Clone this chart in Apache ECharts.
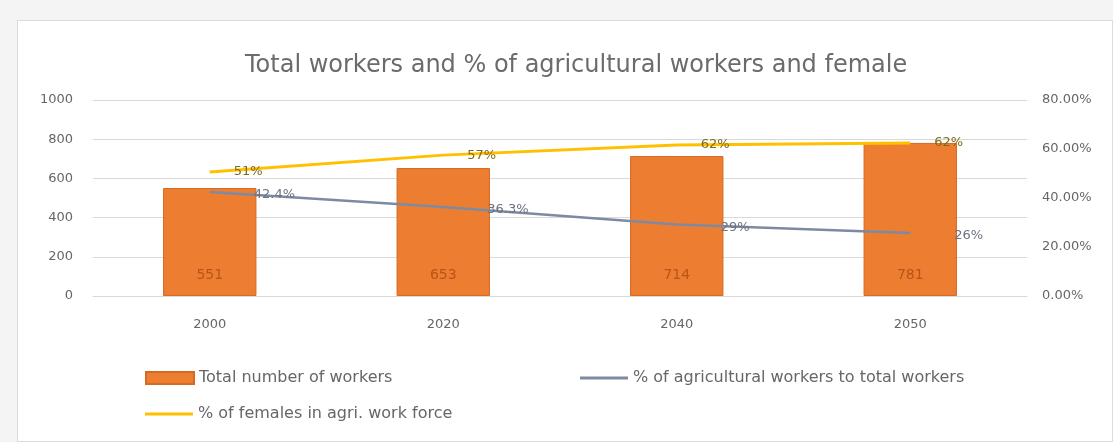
<!DOCTYPE html>
<html><head><meta charset="utf-8">
<script src="https://cdn.jsdelivr.net/npm/echarts@6/dist/echarts.min.js"></script>
<style>
html,body{margin:0;padding:0;background:#f4f4f4;}
#frame{position:absolute;left:17px;top:20px;width:1096px;height:422px;background:#fff;border:1px solid #dcdcdc;box-sizing:border-box;}
#c{position:absolute;left:0;top:0;width:1113px;height:442px;}
</style></head>
<body>
<div id="frame"></div>
<div id="c"></div>
<script>
const categories = ['2000', '2020', '2040', '2050'];
const totalWorkers = [551, 653, 714, 781];
const agriShare = [42.4, 36.3, 29.2, 25.7];
const femaleShare = [50.6, 57.5, 61.6, 62.4];
const agriLabels = ['42.4%', '36.3%', '29%', '26%'];
const femaleLabels = ['51%', '57%', '62%', '62%'];
const leftTicks = ['0', '200', '400', '600', '800', '1000'];

const chart = echarts.init(document.getElementById('c'), null, {renderer: 'canvas'});
const font = 'DejaVu Sans';
const grayC = '#7d8aa1', yellowC = '#FFC000', orangeC = '#ED7D31';
const lineIcon = 'path://M0,0 L48,0 L48,3 L0,3 Z';
const legendText = {fontSize: 16, color: '#666666', fontFamily: font};
chart.setOption({
  backgroundColor: 'transparent',
  animation: false,
  textStyle: {fontFamily: font},
  title: {
    text: 'Total workers and % of agricultural workers and female',
    left: 240, top: 49,
    textStyle: {fontSize: 24, fontWeight: 'normal', color: '#6b6b6b', fontFamily: font}
  },
  legend: [
    {
      left: 140, top: 365, itemWidth: 48, itemHeight: 12, textStyle: legendText,
      data: [{name: 'Total number of workers', icon: 'rect'}]
    },
    {
      left: 575, top: 365, itemWidth: 48, itemHeight: 3, textStyle: legendText,
      data: [{name: '% of agricultural workers to total workers', icon: lineIcon, itemStyle: {color: grayC, opacity: 1}}]
    },
    {
      left: 140, top: 401, itemWidth: 48, itemHeight: 3, textStyle: legendText,
      data: [{name: '% of females in agri. work force', icon: lineIcon, itemStyle: {color: yellowC, opacity: 1}}]
    }
  ],
  grid: {left: 93, right: 86, top: 100, bottom: 146},
  xAxis: {
    type: 'category', data: categories,
    axisLine: {lineStyle: {color: '#d9d9d9'}},
    axisTick: {show: false},
    axisLabel: {color: '#666666', fontSize: 13, margin: 22, fontFamily: font}
  },
  yAxis: [
    {
      type: 'value', min: 0, max: 1000, interval: 200,
      axisLine: {show: false}, axisTick: {show: false},
      splitLine: {lineStyle: {color: '#d9d9d9'}},
      axisLabel: {color: '#666666', fontSize: 13, margin: 20, fontFamily: font,
        formatter: v => leftTicks[Math.round(v / 200)]}
    },
    {
      type: 'value', min: 0, max: 80, interval: 20,
      axisLine: {show: false}, axisTick: {show: false},
      splitLine: {show: false},
      axisLabel: {color: '#666666', fontSize: 13, margin: 15, fontFamily: font,
        formatter: v => v.toFixed(2) + '%'}
    }
  ],
  series: [
    {
      name: 'Total number of workers', type: 'bar', data: totalWorkers,
      barWidth: '40%', yAxisIndex: 0,
      itemStyle: {color: orangeC, borderColor: '#d56a22', borderWidth: 1},
      label: {show: true, position: 'insideBottom', distance: 14, color: '#b8541a', fontSize: 14, fontFamily: font}
    },
    {
      name: '% of agricultural workers to total workers', type: 'line', data: agriShare,
      yAxisIndex: 1, symbol: 'circle', symbolSize: 0.1, showSymbol: true,
      lineStyle: {color: grayC, width: 2.5}, itemStyle: {color: grayC},
      label: {show: true, position: 'right', distance: 44, offset: [0, 3], color: '#6b7280', fontSize: 13, fontFamily: font,
        formatter: p => agriLabels[p.dataIndex]}
    },
    {
      name: '% of females in agri. work force', type: 'line', data: femaleShare,
      yAxisIndex: 1, symbol: 'circle', symbolSize: 0.1, showSymbol: true,
      lineStyle: {color: yellowC, width: 3}, itemStyle: {color: yellowC},
      label: {show: true, position: 'right', distance: 24, offset: [0, 0], color: '#7f6a1a', fontSize: 13, fontFamily: font,
        formatter: p => femaleLabels[p.dataIndex]}
    }
  ]
});
</script>
</body></html>
